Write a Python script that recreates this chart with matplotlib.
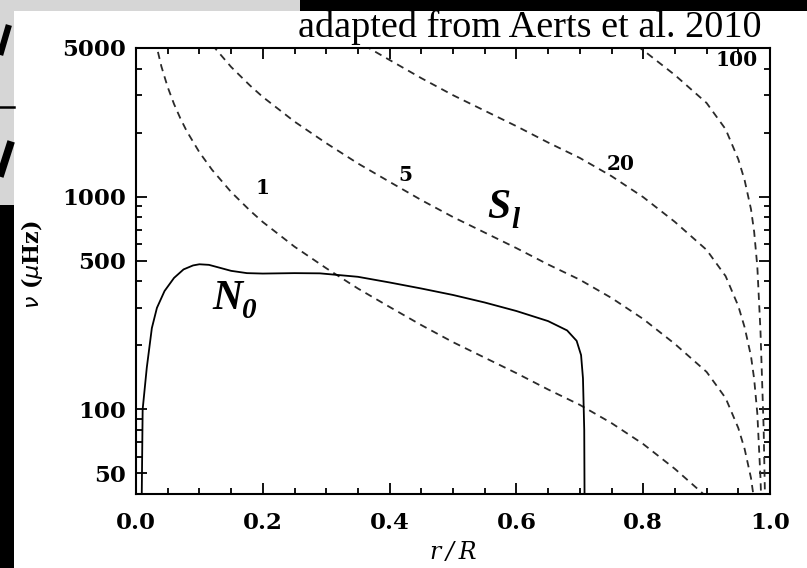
import matplotlib.pyplot as plt
from matplotlib.patches import Rectangle
from matplotlib.lines import Line2D
from matplotlib.ticker import FixedLocator, NullFormatter

# Lamb frequency curves S_l, degree l = 1, 5, 20, 100 (nu in microHz)
r_l1 = [0.03, 0.04, 0.05, 0.06, 0.07, 0.08, 0.10, 0.12, 0.15, 0.18, 0.20, 0.25, 0.30,
        0.35, 0.40, 0.45, 0.50, 0.55, 0.60, 0.65, 0.70, 0.75, 0.80, 0.85, 0.90, 0.93]
nu_l1 = [5476, 4099, 3273, 2725, 2333, 2033, 1617, 1337, 1052, 859, 760, 582, 461,
         370, 303, 249, 207, 175, 148, 124, 105, 86.2, 68.7, 52.5, 38.8, 29.2]

r_l5 = [0.12, 0.15, 0.18, 0.20, 0.25, 0.30, 0.35, 0.40, 0.45, 0.50, 0.55, 0.60,
        0.65, 0.70, 0.75, 0.80, 0.85, 0.90, 0.93, 0.95, 0.96, 0.97, 0.975]
nu_l5 = [5178, 4074, 3327, 2943, 2254, 1785, 1433, 1174, 964, 802, 678, 573,
         480, 407, 334, 266, 203, 150, 113, 81.7, 65.1, 47.6, 37.3]

r_l20 = [0.36, 0.40, 0.45, 0.50, 0.55, 0.60, 0.65, 0.70, 0.75, 0.80, 0.85, 0.90,
         0.93, 0.95, 0.96, 0.97, 0.975, 0.98, 0.985, 0.99]
nu_l20 = [5142, 4391, 3608, 3000, 2536, 2145, 1797, 1521, 1249, 995, 761, 562,
          423, 306, 243, 178, 139, 95.6, 47.5, 16.5]

r_l100 = [0.79, 0.80, 0.85, 0.90, 0.93, 0.95, 0.96, 0.97, 0.975, 0.98, 0.985, 0.99, 0.993]
nu_l100 = [5120, 4882, 3731, 2757, 2075, 1499, 1194, 874, 684, 469, 233, 81, 27.8]

# buoyancy frequency N0
r_N = [0.009, 0.0105, 0.017, 0.025, 0.033, 0.045, 0.06, 0.075, 0.09, 0.10, 0.115,
       0.13, 0.15, 0.175, 0.20, 0.25, 0.29, 0.35, 0.40, 0.45, 0.50, 0.55, 0.60,
       0.65, 0.68, 0.695, 0.702, 0.705, 0.707, 0.7075]
nu_N = [38, 100, 157, 241, 300, 360, 415, 455, 475, 481, 478,
        465, 448, 437, 435, 437, 436, 420, 395, 370, 345, 318, 290,
        260, 235, 210, 180, 140, 80, 38]

curve_labels = ["1", "5", "20", "100"]
label_xy = [(0.2, 1100), (0.425, 1260), (0.765, 1420), (0.948, 4400)]

W, H = 807, 568
fig = plt.figure(figsize=(W / 100, H / 100), dpi=100)
fig.patch.set_facecolor("white")

def px(x, y, w, h, color):
    fig.add_artist(Rectangle((x / W, 1 - (y + h) / H), w / W, h / H,
                             transform=fig.transFigure, facecolor=color,
                             edgecolor="none", zorder=0))

px(0, 0, 300, 11, "#d6d6d6")
px(0, 0, 14, 205, "#d6d6d6")
px(300, 0, 507, 11, "black")
px(0, 205, 14, 363, "black")
fig.add_artist(Line2D([0, 14 / W], [1 - 107 / H, 1 - 107 / H], transform=fig.transFigure,
                      color="black", lw=1.8))
fig.add_artist(Line2D([8 / W, 1 / W], [1 - 28 / H, 1 - 52 / H], transform=fig.transFigure,
                      color="black", lw=4.5))
fig.add_artist(Line2D([10 / W, 1 / W], [1 - 145 / H, 1 - 173 / H], transform=fig.transFigure,
                      color="black", lw=5.5))

ax = fig.add_axes([136 / W, 1 - 494 / H, 634 / W, 446 / H])
ax.set_yscale("log")

dash = dict(color="#2a2a2a", lw=1.3, dashes=(4, 3))
ax.plot(r_l1, nu_l1, **dash)
ax.plot(r_l5, nu_l5, **dash)
ax.plot(r_l20, nu_l20, **dash)
ax.plot(r_l100, nu_l100, **dash)
ax.plot(r_N, nu_N, color="black", lw=1.3)

ax.set_xlim(0, 1)
ax.set_ylim(40, 5000)

ax.xaxis.set_major_locator(FixedLocator([0, 0.2, 0.4, 0.6, 0.8, 1.0]))
ax.xaxis.set_minor_locator(FixedLocator([i * 0.05 for i in range(21)]))
ax.set_xticklabels(["0.0", "0.2", "0.4", "0.6", "0.8", "1.0"])
ax.yaxis.set_major_locator(FixedLocator([50, 100, 500, 1000, 5000]))
ax.yaxis.set_minor_locator(FixedLocator([60, 70, 80, 90, 200, 300, 400, 600, 700, 800,
                                         900, 2000, 3000, 4000]))
ax.yaxis.set_minor_formatter(NullFormatter())
ax.set_yticklabels(["50", "100", "500", "1000", "5000"])

for lab in ax.get_xticklabels() + ax.get_yticklabels():
    lab.set_fontproperties(dict(family="DejaVu Serif", weight="bold", size=16.5))
ax.tick_params(which="both", direction="in", top=True, right=True, width=1.3)
ax.tick_params(which="major", length=8)
ax.tick_params(which="minor", length=4.5)
ax.tick_params(axis="x", which="major", pad=13)
ax.tick_params(axis="y", which="major", pad=7)
for s in ax.spines.values():
    s.set_linewidth(1.5)

ax.set_xlabel("r\u2009/\u2009R", family="DejaVu Serif", style="italic", size=17, labelpad=5)
fig.text(32 / W, 1 - 265 / H, r"$\nu$ ($\mu$Hz)", rotation=90, ha="center", va="center",
         family="DejaVu Serif", weight="bold", size=16)

for t, (xx, yy) in zip(curve_labels, label_xy):
    ax.text(xx, yy, t, family="DejaVu Serif", weight="bold", size=14.5, ha="center", va="center")

big = dict(family="Liberation Serif", weight="bold", style="italic")
fig.text(487 / W, 1 - 218 / H, "S", size=30, **big)
fig.text(511 / W, 1 - 228 / H, "l", size=21, **big)
fig.text(212 / W, 1 - 309 / H, "N", size=30, **big)
fig.text(242 / W, 1 - 318 / H, "0", size=21, **big)

fig.text(298 / W, 1 - 37 / H, "adapted from Aerts et al. 2010", family="Liberation Serif",
         size=27.5, ha="left", va="baseline")

fig.savefig("out.png", dpi=100)
